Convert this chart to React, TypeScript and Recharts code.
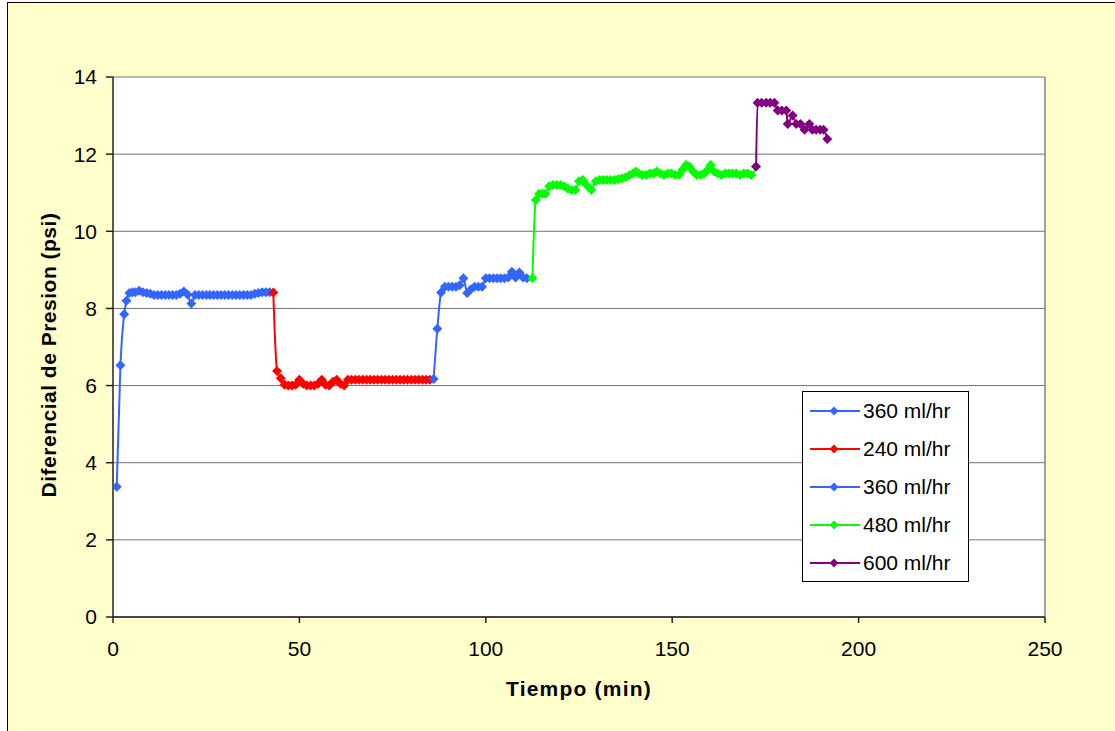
import React from "react";
import { LineChart, Line, XAxis, YAxis, CartesianGrid, Legend, ReferenceLine } from "recharts";

// ---- data ----
const s1Time = [1, 2, 3, 3.6, 4.4, 5.2, 6, 7, 8, 9, 10, 11, 12, 13, 14, 15, 16, 17, 18, 19, 20, 21, 22, 23, 24, 25, 26, 27, 28, 29, 30, 31, 32, 33, 34, 35, 36, 37, 38, 39, 40, 41, 42];
const s1Val = [3.38, 6.53, 7.85, 8.2, 8.4, 8.42, 8.42, 8.46, 8.42, 8.4, 8.38, 8.35, 8.35, 8.35, 8.35, 8.35, 8.35, 8.35, 8.38, 8.44, 8.36, 8.13, 8.35, 8.35, 8.35, 8.35, 8.35, 8.35, 8.35, 8.35, 8.35, 8.35, 8.35, 8.35, 8.35, 8.35, 8.35, 8.35, 8.38, 8.4, 8.42, 8.42, 8.42];

const s2Time = [43, 44, 45, 46, 47, 48, 49, 50, 51, 52, 53, 54, 55, 56, 57, 58, 59, 60, 61, 62, 63, 64, 65, 66, 67, 68, 69, 70, 71, 72, 73, 74, 75, 76, 77, 78, 79, 80, 81, 82, 83, 84, 85];
const s2Val = [8.41, 6.38, 6.19, 6.02, 6.0, 6.0, 6.02, 6.15, 6.05, 6.0, 6.0, 6.0, 6.05, 6.15, 6.02, 6.0, 6.1, 6.15, 6.05, 6.0, 6.15, 6.15, 6.15, 6.15, 6.15, 6.15, 6.15, 6.15, 6.15, 6.15, 6.15, 6.15, 6.15, 6.15, 6.15, 6.15, 6.15, 6.15, 6.15, 6.15, 6.15, 6.15, 6.15];

const s3Time = [86, 87, 88, 89, 90, 91, 92, 93, 94, 95, 96, 97, 98, 99, 100, 101, 102, 103, 104, 105, 106, 107, 108, 109, 110, 111];
const s3Val = [6.17, 7.47, 8.41, 8.56, 8.56, 8.56, 8.56, 8.6, 8.78, 8.4, 8.5, 8.56, 8.56, 8.56, 8.78, 8.78, 8.78, 8.78, 8.78, 8.78, 8.8, 8.95, 8.8, 8.93, 8.8, 8.78];

const s4Time = [112.5, 113.4, 114.3, 115.2, 116, 117, 118, 119, 120, 121, 122, 123, 124, 125, 126, 127, 128.3, 129.5, 130.5, 131.5, 132.5, 133.5, 134.5, 135.5, 136.5, 137.5, 138.5, 139.5, 140.2, 141, 142, 143, 144, 145, 145.8, 146.8, 147.8, 148.8, 149.8, 150.8, 151.8, 152.8, 153.7, 154.6, 155.6, 156.6, 157.6, 158.6, 159.6, 160.3, 161.2, 162.2, 163.2, 164.2, 165.2, 166.2, 167.2, 168.2, 169.2, 170.2, 171.2, 172.5];
const s4Val = [8.78, 10.81, 10.97, 10.97, 10.97, 11.17, 11.2, 11.2, 11.2, 11.17, 11.1, 11.07, 11.07, 11.3, 11.33, 11.2, 11.07, 11.3, 11.33, 11.33, 11.33, 11.33, 11.33, 11.35, 11.37, 11.4, 11.45, 11.5, 11.55, 11.5, 11.46, 11.46, 11.5, 11.5, 11.55, 11.5, 11.46, 11.5, 11.5, 11.46, 11.46, 11.6, 11.72, 11.68, 11.55, 11.46, 11.46, 11.5, 11.6, 11.72, 11.55, 11.5, 11.46, 11.5, 11.5, 11.5, 11.5, 11.46, 11.5, 11.5, 11.46, 11.68];

const s5Time = [172.5, 172.9, 174, 175.2, 176.3, 177.4, 178.3, 179.4, 180.6, 181, 182.3, 183.3, 184.4, 185.5, 186.8, 187.6, 188.6, 189.7, 190.6, 191.6];
const s5Val = [11.68, 13.33, 13.33, 13.33, 13.33, 13.33, 13.13, 13.13, 13.13, 12.78, 13.0, 12.78, 12.78, 12.63, 12.78, 12.63, 12.63, 12.63, 12.63, 12.39];

const seriesNames = ["360 ml/hr", "240 ml/hr", "360 ml/hr", "480 ml/hr", "600 ml/hr"];
const seriesColors = ["#3366FF", "#FF0000", "#3366FF", "#00FF00", "#800080"];
const seriesTimes = [s1Time, s2Time, s3Time, s4Time, s5Time];
const seriesVals = [s1Val, s2Val, s3Val, s4Val, s5Val];

const xTicks = [0, 50, 100, 150, 200, 250];
const yTicks = [0, 2, 4, 6, 8, 10, 12, 14];
const xTitle = "Tiempo (min)";
const yTitle = "Diferencial de Presion (psi)";

const FONT = "Arial, 'Liberation Sans', sans-serif";

const seriesData = seriesTimes.map((ts, i) => ts.map((t, j) => ({ t, v: seriesVals[i][j] })));

const diamondDot = (color: string, r: number) => (props: any) => {
  const { cx, cy, index } = props;
  if (cx == null || cy == null) return <g key={`e-${index}`} />;
  return (
    <polygon
      key={`d-${index}`}
      points={`${cx},${cy - r} ${cx + r},${cy} ${cx},${cy + r} ${cx - r},${cy}`}
      fill={color}
      stroke="none"
    />
  );
};

const LegendBox = () => (
  <div
    style={{
      width: 167,
      height: 191,
      border: "1px solid #000",
      background: "#fff",
      boxSizing: "border-box",
      fontFamily: FONT,
      fontSize: 21,
      color: "#000",
      paddingTop: 0,
    }}
  >
    {seriesNames.map((n, i) => (
      <div key={i} style={{ height: 38, display: "flex", alignItems: "center", position: "relative" }}>
        <svg width={50} height={12} style={{ position: "absolute", left: 7, top: 13 }}>
          <line x1={0} y1={6} x2={50} y2={6} stroke={seriesColors[i]} strokeWidth={2} />
          <polygon points="24,1.5 28.5,6 24,10.5 19.5,6" fill={seriesColors[i]} />
        </svg>
        <span style={{ position: "absolute", left: 60, top: 7, lineHeight: "24px" }}>{n}</span>
      </div>
    ))}
  </div>
);

export default function App() {
  return (
    <div style={{ position: "absolute", left: 0, top: 0, width: 1115, height: 731, overflow: "hidden", background: "#fff" }}>
      <div
        style={{
          position: "absolute",
          left: 7,
          top: 2,
          width: 1120,
          height: 740,
          background: "#FFFFCC",
          border: "1px solid #000",
        }}
      />
      <div style={{ position: "absolute", left: 0, top: 0 }}>
        <LineChart
          width={1115}
          height={731}
          margin={{ top: 77, right: 70, bottom: 54, left: 53 }}
        >
          <CartesianGrid vertical={false} stroke="#707070" strokeWidth={1} fill="#FFFFFF" fillOpacity={1} />
          <XAxis
            type="number"
            dataKey="t"
            domain={[0, 250]}
            ticks={xTicks}
            interval={0}
            height={60}
            allowDataOverflow
            stroke="#222"
            strokeWidth={1.5}
            tickSize={6}
            tickMargin={18}
            tick={{ fill: "#000", fontSize: 21, fontFamily: FONT }}
            tickLine={{ stroke: "#222" }}
            label={(props: any) => {
              const vb = props.viewBox || {};
              const cx = (vb.x || 0) + (vb.width || 0) / 2;
              return (
                <text
                  x={cx}
                  y={696}
                  textAnchor="middle"
                  fontFamily={FONT}
                  fontSize={21}
                  fontWeight="bold"
                  letterSpacing={1.2}
                  fill="#000"
                >
                  {xTitle}
                </text>
              );
            }}
          />
          <YAxis
            type="number"
            dataKey="v"
            domain={[0, 14]}
            ticks={yTicks}
            interval={0}
            width={60}
            stroke="#222"
            strokeWidth={1.5}
            tickSize={7}
            tickMargin={9}
            tick={{ fill: "#000", fontSize: 21, fontFamily: FONT }}
            tickLine={{ stroke: "#222" }}
            label={(props: any) => {
              const vb = props.viewBox || {};
              const cy = (vb.y || 0) + (vb.height || 0) / 2 + 8;
              const x = 56;
              return (
                <text
                  x={x}
                  y={cy}
                  transform={`rotate(-90 ${x} ${cy})`}
                  textAnchor="middle"
                  fontFamily={FONT}
                  fontSize={21}
                  fontWeight="bold"
                  letterSpacing={0.5}
                  fill="#000"
                >
                  {yTitle}
                </text>
              );
            }}
          />
          <ReferenceLine x={250} stroke="#808080" strokeWidth={1.5} ifOverflow="extendDomain" />
          {seriesData.map((d, i) => (
            <Line
              key={i}
              data={d}
              dataKey="v"
              name={`${seriesNames[i]}-${i}`}
              type="monotoneX"
              stroke={seriesColors[i]}
              strokeWidth={2}
              dot={diamondDot(seriesColors[i], 5)}
              activeDot={false}
              isAnimationActive={false}
              legendType="none"
            />
          ))}
          <Legend
            layout="horizontal"
            verticalAlign="middle"
            align="center"
            content={() => <LegendBox />}
            wrapperStyle={{ left: 802, top: 391, width: 167, height: 191 }}
          />
        </LineChart>
      </div>
    </div>
  );
}
